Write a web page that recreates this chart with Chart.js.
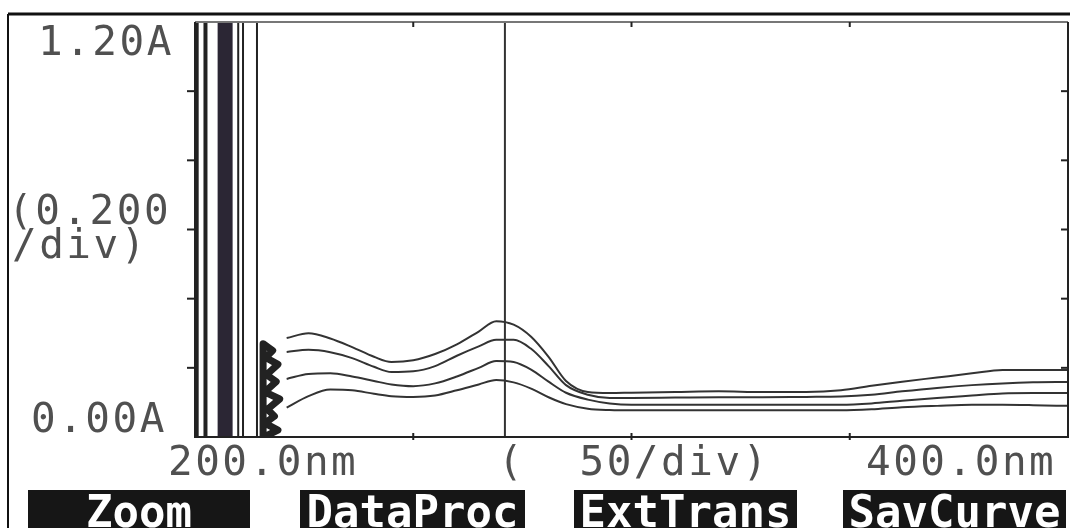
<!DOCTYPE html>
<html>
<head>
<meta charset="utf-8">
<script src="https://cdn.jsdelivr.net/npm/chart.js@4/dist/chart.umd.min.js"></script>
<style>
  html, body { margin: 0; padding: 0; background: #fff; }
  canvas { display: block; }
</style>
</head>
<body>
<canvas id="spektrum" width="1070" height="528"></canvas>
<script>
// wavelengths (nm) shared by the four absorbance curves
const wavelengths = [221, 226, 231, 236, 241, 245, 250, 255, 260, 265, 269, 273, 277, 281, 285,
                     290, 295, 300, 310, 320, 330, 340, 348, 355, 362, 370, 378, 385, 392, 400];
const curve1 = [0.286, 0.300, 0.285, 0.260, 0.232, 0.217, 0.222, 0.240, 0.268, 0.305, 0.335, 0.325, 0.290, 0.232, 0.162,
                0.130, 0.127, 0.128, 0.130, 0.132, 0.130, 0.130, 0.135, 0.148, 0.160, 0.172, 0.184, 0.194, 0.194, 0.194];
const curve2 = [0.246, 0.252, 0.245, 0.228, 0.203, 0.188, 0.190, 0.205, 0.235, 0.262, 0.281, 0.281, 0.255, 0.205, 0.150,
                0.122, 0.113, 0.113, 0.114, 0.115, 0.115, 0.116, 0.117, 0.122, 0.132, 0.142, 0.150, 0.155, 0.158, 0.159];
const curve3 = [0.168, 0.182, 0.184, 0.175, 0.162, 0.152, 0.147, 0.155, 0.175, 0.200, 0.220, 0.217, 0.195, 0.160, 0.128,
                0.108, 0.097, 0.093, 0.093, 0.093, 0.093, 0.093, 0.093, 0.097, 0.105, 0.113, 0.120, 0.126, 0.127, 0.127];
const curve4 = [0.085, 0.118, 0.137, 0.135, 0.125, 0.118, 0.116, 0.120, 0.135, 0.152, 0.165, 0.158, 0.140, 0.115, 0.095,
                0.082, 0.078, 0.077, 0.077, 0.077, 0.077, 0.077, 0.077, 0.080, 0.086, 0.090, 0.093, 0.093, 0.092, 0.090];

// off-scale region below ~215 nm: vertical traces
const satWavelengths = [200.5, 202.4, 206.9, 209.9, 211.0, 214.2];
const satWidths = [3, 4, 15, 2, 2, 2];
// noisy start of the curves (dark blob)
const noiseX = [215.6, 215.6, 217.8, 216.2, 219.0, 216.4, 218.6, 216.0, 219.4, 216.6, 218.2, 216.0, 219.0, 215.8];
const noiseY = [0.00, 0.27, 0.25, 0.23, 0.21, 0.18, 0.16, 0.13, 0.11, 0.08, 0.06, 0.04, 0.02, 0.00];
const cursorNm = 271;

const xMin = 200, xMax = 400, xStep = 50;
const yMin = 0, yMax = 1.2, yStep = 0.2;
const yLabels = ['1.20A', '(0.200', '/div)', '0.00A'];
const xLabels = ['200.0nm', '(  50/div)', '400.0nm'];
const buttons = ['Zoom', 'DataProc', 'ExtTrans', 'SavCurve'];

function pts(xs, ys) { return xs.map((x, i) => ({ x: x, y: ys[i] })); }

const curveStyle = {
    borderColor: '#333', borderWidth: 2, pointRadius: 0,
    showLine: true, cubicInterpolationMode: 'monotone'
};

const datasets = [
    { ...curveStyle, data: pts(wavelengths, curve1) },
    { ...curveStyle, data: pts(wavelengths, curve2) },
    { ...curveStyle, data: pts(wavelengths, curve3) },
    { ...curveStyle, data: pts(wavelengths, curve4) },
    { data: pts(noiseX, noiseY), borderColor: '#222', borderWidth: 7, borderJoinStyle: 'round',
      pointRadius: 0, showLine: true }
];
satWavelengths.forEach((w, i) => {
    datasets.push({
        data: [{ x: w, y: yMin }, { x: w, y: yMax }],
        borderColor: i === 2 ? '#2b2634' : '#222', borderWidth: satWidths[i],
        pointRadius: 0, showLine: true
    });
});
datasets.push({
    data: [{ x: cursorNm, y: yMin }, { x: cursorNm, y: yMax }],
    borderColor: '#333', borderWidth: 2, pointRadius: 0, showLine: true
});

const rahmen = {
    id: 'rahmen',
    afterDraw(chart) {
        const ctx = chart.ctx;
        const xs = chart.scales.x, ys = chart.scales.y;
        const L = xs.getPixelForValue(xMin), R = xs.getPixelForValue(xMax);
        const T = ys.getPixelForValue(yMax), B = ys.getPixelForValue(yMin);
        ctx.save();
        // outer frame
        ctx.strokeStyle = '#111';
        ctx.lineWidth = 3;
        ctx.beginPath(); ctx.moveTo(8, 14); ctx.lineTo(1070, 14); ctx.stroke();
        ctx.lineWidth = 2;
        ctx.beginPath(); ctx.moveTo(8, 14); ctx.lineTo(8, 528); ctx.stroke();
        // plot box
        ctx.strokeStyle = '#777';
        ctx.beginPath(); ctx.moveTo(L, T); ctx.lineTo(R, T); ctx.stroke();
        ctx.strokeStyle = '#222';
        ctx.beginPath(); ctx.moveTo(L, T); ctx.lineTo(L, B); ctx.lineTo(R, B); ctx.lineTo(R, T); ctx.stroke();
        // ticks
        for (let v = yMin + yStep; v < yMax - 1e-6; v += yStep) {
            const p = ys.getPixelForValue(v);
            ctx.beginPath(); ctx.moveTo(L - 8, p); ctx.lineTo(L, p); ctx.stroke();
            ctx.beginPath(); ctx.moveTo(R - 7, p); ctx.lineTo(R, p); ctx.stroke();
        }
        for (let v = xMin + xStep; v < xMax; v += xStep) {
            const p = xs.getPixelForValue(v);
            ctx.beginPath(); ctx.moveTo(p, B - 4); ctx.lineTo(p, B + 3); ctx.stroke();
            ctx.beginPath(); ctx.moveTo(p, T); ctx.lineTo(p, T + 5); ctx.stroke();
        }
        // labels
        ctx.fillStyle = '#505050';
        ctx.font = '41px "DejaVu Sans Mono"';
        ctx.letterSpacing = '2.5px';
        ctx.textBaseline = 'alphabetic';
        ctx.textAlign = 'left';
        ctx.fillText(yLabels[0], 38, T + 33);
        const mid = ys.getPixelForValue((yMin + yMax) / 2);
        ctx.fillText(yLabels[1], 8, mid - 6);
        ctx.fillText(yLabels[2], 12, mid + 28);
        ctx.fillText(yLabels[3], 31, B - 5);
        ctx.fillText(xLabels[0], L - 27, B + 38);
        ctx.fillText(xLabels[1], xs.getPixelForValue(cursorNm) - 7, B + 38);
        ctx.fillText(xLabels[2], R - 202, B + 38);
        // soft keys
        const boxes = [[28, 250], [300, 525], [574, 797], [843, 1066]];
        ctx.letterSpacing = '0px';
        ctx.font = 'bold 44px "DejaVu Sans Mono"';
        ctx.textAlign = 'center';
        buttons.forEach((b, i) => {
            const [a, e] = boxes[i];
            ctx.fillStyle = '#161616';
            ctx.fillRect(a, 490, e - a, 40);
            ctx.fillStyle = '#fff';
            ctx.fillText(b, (a + e) / 2, 527);
        });
        ctx.restore();
    }
};

const ctx = document.getElementById('spektrum').getContext('2d');
const spektrumChart = new Chart(ctx, {
    type: 'scatter',
    data: { datasets: datasets },
    options: {
        responsive: false,
        animation: false,
        layout: { padding: { left: 195, right: 2, top: 22, bottom: 91 } },
        plugins: { legend: { display: false }, tooltip: { enabled: false } },
        scales: {
            x: { type: 'linear', min: xMin, max: xMax, display: false },
            y: { type: 'linear', min: yMin, max: yMax, display: false }
        }
    },
    plugins: [rahmen]
});
</script>
</body>
</html>
